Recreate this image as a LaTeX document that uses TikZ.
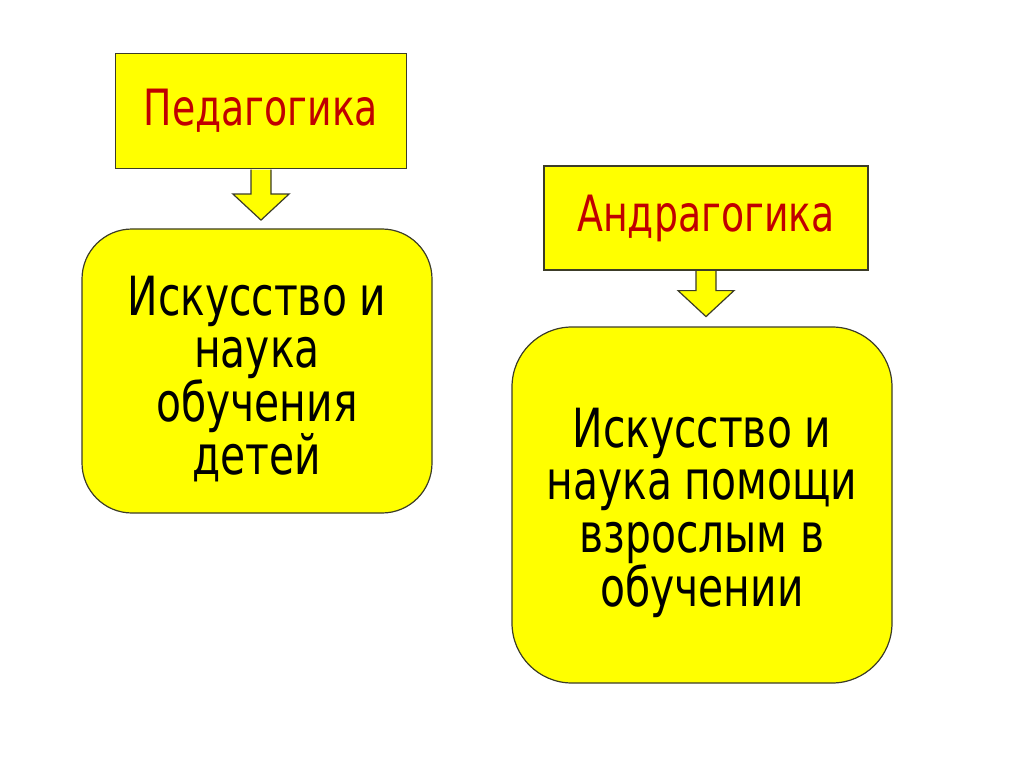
\documentclass[tikz,border=0pt]{standalone}
\usepackage{fontspec}
\setmainfont[FakeStretch=0.84]{DejaVu Sans Condensed}
\usetikzlibrary{calc}

\definecolor{boxyellow}{RGB}{255,255,0}
\definecolor{titlered}{RGB}{192,0,0}
\definecolor{edgegray}{RGB}{60,60,40}

\newcommand{\topstrut}{\rule{0pt}{55pt}}

\tikzset{
  titlebox/.style={draw=edgegray, fill=boxyellow, line width=1.2pt,
    inner sep=0pt, text=titlered, font=\fontsize{50}{50}\selectfont},
  defbox/.style={draw=edgegray, fill=boxyellow, line width=1.2pt,
    rounded corners=#1, inner sep=0pt, align=center,
    font=\fontsize{54}{52.5}\selectfont},
  blockarrow/.style={draw=edgegray, fill=boxyellow, line width=1.2pt, line join=miter}
}

% block arrow from the bottom of #1 down to coordinate #2
\newcommand{\blockarrow}[2]{%
  \draw[blockarrow] ($(#1.south)+(-10,0.6)$) -- ($(#2)+(-10,-26)$)
    -- ($(#2)+(-28,-26)$) -- (#2) -- ($(#2)+(28,-26)$)
    -- ($(#2)+(10,-26)$) -- ($(#1.south)+(10,0.6)$);}

\begin{document}
\begin{tikzpicture}[x=1pt, y=-1pt]
  \useasboundingbox (0,0) rectangle (1024,767);

  \node[titlebox, minimum width=291pt, minimum height=115pt] (ped) at (261,111) {Педагогика};
  \node[defbox=50pt, minimum width=350pt, minimum height=284pt] (peddef) at (257,371)
    {\topstrut Искусство и\\наука\\обучения\\детей};

  \node[titlebox, minimum width=324pt, minimum height=104pt] (andr) at (706,218) {Андрагогика};
  \node[defbox=60pt, minimum width=380pt, minimum height=356pt] (andrdef) at (702,505)
    {\topstrut Искусство и\\наука помощи\\взрослым в\\обучении};

  \coordinate (pedtip) at ($(ped.south)+(0,51)$);
  \coordinate (andrtip) at ($(andr.south)+(0,46)$);
  \blockarrow{ped}{pedtip}
  \blockarrow{andr}{andrtip}
\end{tikzpicture}
\end{document}
